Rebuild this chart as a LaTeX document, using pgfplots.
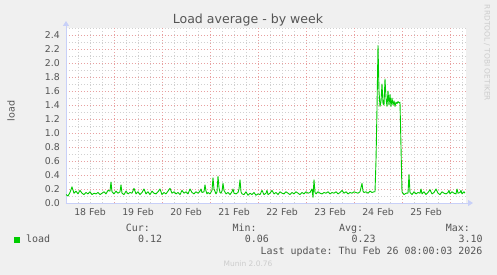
\documentclass[border=0pt]{standalone}
\usepackage{pgfplots}
\pgfplotsset{compat=1.18}
\usepackage{fontspec}
\setmainfont{DejaVu Sans}
\setmonofont{DejaVu Sans Mono}
\usetikzlibrary{arrows.meta}
\definecolor{bg}{HTML}{F0F0F0}
\definecolor{txt}{HTML}{555555}
\definecolor{lgreen}{HTML}{00CC00}
\definecolor{axc}{HTML}{C8D0F8}
\definecolor{mgrid}{HTML}{E8A0A0}
\definecolor{ngrid}{HTML}{D0D0D0}
\definecolor{faint}{HTML}{CCCCCC}
\begin{document}
\begin{tikzpicture}
\fill[bg] (-66bp,-72bp) rectangle (431bp,203bp);
\begin{axis}[
  at={(0bp,0bp)}, anchor=south west,
  scale only axis, width=400bp, height=175bp,
  xmin=0, xmax=200, ymin=0, ymax=2.5,
  axis background/.style={fill=white},
  axis x line=bottom, axis y line=left,
  axis line style={draw=axc, line width=0.8bp, -{Triangle[length=5bp,width=6bp]}, shorten >=-7bp},
  major tick length=0, minor tick length=0,
  xtick={12,36,60,84,108,132,156,180},
  xticklabels={18 Feb,19 Feb,20 Feb,21 Feb,22 Feb,23 Feb,24 Feb,25 Feb},
  xmajorgrids=false,
  extra x ticks={24,48,72,96,120,144,168,192},
  extra x tick labels={},
  extra x tick style={xmajorgrids=true, major grid style={color=mgrid, dash pattern=on 1bp off 2bp, line width=0.6bp}},
  minor xtick={6,12,18,30,36,42,54,60,66,78,84,90,102,108,114,126,132,138,150,156,162,174,180,186,198},
  xminorgrids=true,
  ytick={0,0.2,0.4,0.6,0.8,1.0,1.2,1.4,1.6,1.8,2.0,2.2,2.4},
  minor ytick={0.1,0.3,0.5,0.7,0.9,1.1,1.3,1.5,1.7,1.9,2.1,2.3,2.5},
  ymajorgrids=true, yminorgrids=true,
  major grid style={color=mgrid, dash pattern=on 1bp off 2bp, line width=0.6bp},
  minor grid style={color=ngrid, dash pattern=on 1bp off 2bp, line width=0.6bp},
  tick label style={font=\fontsize{9.4}{11}\selectfont, text=txt},
  xticklabel style={anchor=north, inner sep=0pt, yshift=-5bp},
  yticklabel style={anchor=east, inner sep=0pt, xshift=-6bp},
  /pgf/number format/assume math mode=true,
  yticklabel style={/pgf/number format/.cd, fixed, fixed zerofill, precision=1},
  clip=true,
]
\addplot[color=lgreen, line width=0.9bp, line join=round] coordinates {
(0,0.12)(1,0.10)(2,0.15)(3,0.23)(4,0.14)(5,0.17)(6,0.13)(7,0.18)(8,0.14)(9,0.12)
(10,0.15)(11,0.13)(12,0.16)(13,0.12)(14,0.14)(15,0.13)(16,0.15)(17,0.12)(18,0.14)(19,0.16)
(20,0.13)(21,0.18)(22,0.17)(22.5,0.30)(23,0.16)(24,0.13)(25,0.17)(26,0.14)(27,0.16)(27.5,0.26)
(28,0.14)(29,0.12)(30,0.17)(31,0.13)(32,0.15)(33,0.14)(34,0.21)(35,0.13)(36,0.16)(37,0.12)
(38,0.15)(39,0.20)(40,0.13)(41,0.16)(42,0.12)(43,0.17)(44,0.14)(45,0.13)(46,0.16)(47,0.20)
(48,0.12)(49,0.15)(50,0.13)(51,0.17)(52,0.21)(53,0.14)(54,0.16)(55,0.13)(56,0.15)(57,0.12)
(58,0.18)(59,0.14)(60,0.16)(61,0.13)(62,0.20)(63,0.15)(64,0.13)(65,0.16)(66,0.14)(67,0.17)
(67.5,0.20)(68,0.15)(69,0.16)(69.5,0.26)(70,0.17)(70.5,0.13)(71,0.15)(72,0.13)(73,0.18)(73.5,0.36)
(74,0.20)(75,0.13)(75.5,0.16)(76,0.38)(76.5,0.22)(77,0.15)(77.5,0.14)(78,0.17)(78.5,0.28)(79,0.18)
(80,0.13)(81,0.15)(82,0.12)(83,0.16)(83.5,0.20)(84,0.14)(85,0.13)(86,0.15)(86.5,0.20)(87,0.33)
(87.5,0.16)(88,0.13)(89,0.12)(90,0.16)(91,0.11)(92,0.14)(93,0.12)(94,0.15)(95,0.11)(96,0.13)
(97,0.12)(98,0.18)(99,0.12)(100,0.14)(100.5,0.18)(101,0.12)(102,0.14)(103,0.18)(104,0.13)(105,0.15)
(106,0.12)(107,0.16)(108,0.14)(109,0.13)(110,0.16)(111,0.14)(112,0.12)(113,0.15)(114,0.13)(115,0.16)
(116,0.14)(117,0.12)(118,0.15)(119,0.13)(120,0.16)(121,0.14)(122,0.15)(123,0.20)(123.5,0.08)(124,0.33)
(124.5,0.15)(125,0.13)(126,0.16)(127,0.14)(128,0.13)(129,0.15)(130,0.14)(131,0.16)(132,0.13)(133,0.15)
(134,0.14)(135,0.16)(136,0.13)(137,0.15)(138,0.18)(139,0.14)(140,0.16)(141,0.13)(142,0.15)(143,0.14)
(144,0.16)(145,0.15)(146,0.14)(147,0.16)(148,0.28)(148.5,0.17)(149,0.15)(150,0.16)(151,0.14)(152,0.17)
(153,0.15)(154,0.16)(154.5,0.16)(155,0.60)(155.5,1.35)(156,2.25)(156.5,1.60)(157,1.38)(157.5,1.45)(158,1.70)
(158.5,1.42)(159,1.40)(159.5,1.77)(160,1.50)(160.5,1.38)(161,1.60)(161.5,1.40)(162,1.55)(162.5,1.38)(163,1.50)
(163.5,1.40)(164,1.46)(164.5,1.38)(165,1.44)(165.5,1.42)(166,1.45)(166.5,1.43)(167,1.44)(167.5,0.80)(168,0.16)
(169,0.12)(170,0.14)(171,0.14)(171.5,0.41)(172,0.15)(173,0.12)(174,0.16)(175,0.13)(176,0.15)(177,0.14)
(177.5,0.20)(178,0.13)(179,0.16)(180,0.12)(181,0.15)(182,0.19)(183,0.13)(184,0.15)(185,0.20)(186,0.14)
(187,0.12)(188,0.16)(189,0.14)(190,0.13)(191,0.15)(191.5,0.18)(192,0.13)(193,0.16)(194,0.14)(195,0.13)
(195.5,0.20)(196,0.14)(197,0.15)(197.5,0.18)(198,0.13)(199,0.16)(199.5,0.14)
};
\end{axis}
\node[anchor=base, font=\fontsize{12.6}{14}\selectfont, text=txt] at (182bp,179bp) {Load average - by week};
\node[rotate=90, font=\fontsize{9.6}{11}\selectfont, text=txt] at (-55bp,92bp) {load};
\node[rotate=-90, font=\fontsize{7.5}{9}\selectfont, text=faint] at (421bp,150bp) {RRDTOOL / TOBI OETIKER};
\begin{scope}[every node/.style={font=\ttfamily\fontsize{10}{12}\selectfont, text=txt, inner sep=0pt}]
\node[anchor=base east] at (84bp,-28bp) {Cur:};
\node[anchor=base east] at (190.7bp,-28bp) {Min:};
\node[anchor=base east] at (297.3bp,-28bp) {Avg:};
\node[anchor=base east] at (404bp,-28bp) {Max:};
\fill[lgreen] (-52bp,-34bp) rectangle (-46bp,-40bp);
\node[anchor=base west] at (-40bp,-39.5bp) {load};
\node[anchor=base east] at (96.3bp,-39.5bp) {0.12};
\node[anchor=base east] at (203bp,-39.5bp) {0.06};
\node[anchor=base east] at (309.7bp,-39.5bp) {0.23};
\node[anchor=base east] at (416.7bp,-39.5bp) {3.10};
\node[anchor=base east] at (416.7bp,-51bp) {Last update: Thu Feb 26 08:00:03 2026};
\end{scope}
\node[anchor=base, font=\fontsize{7.5}{9}\selectfont, text=faint, inner sep=0pt] at (182bp,-63.5bp) {Munin 2.0.76};
\end{tikzpicture}
\end{document}
